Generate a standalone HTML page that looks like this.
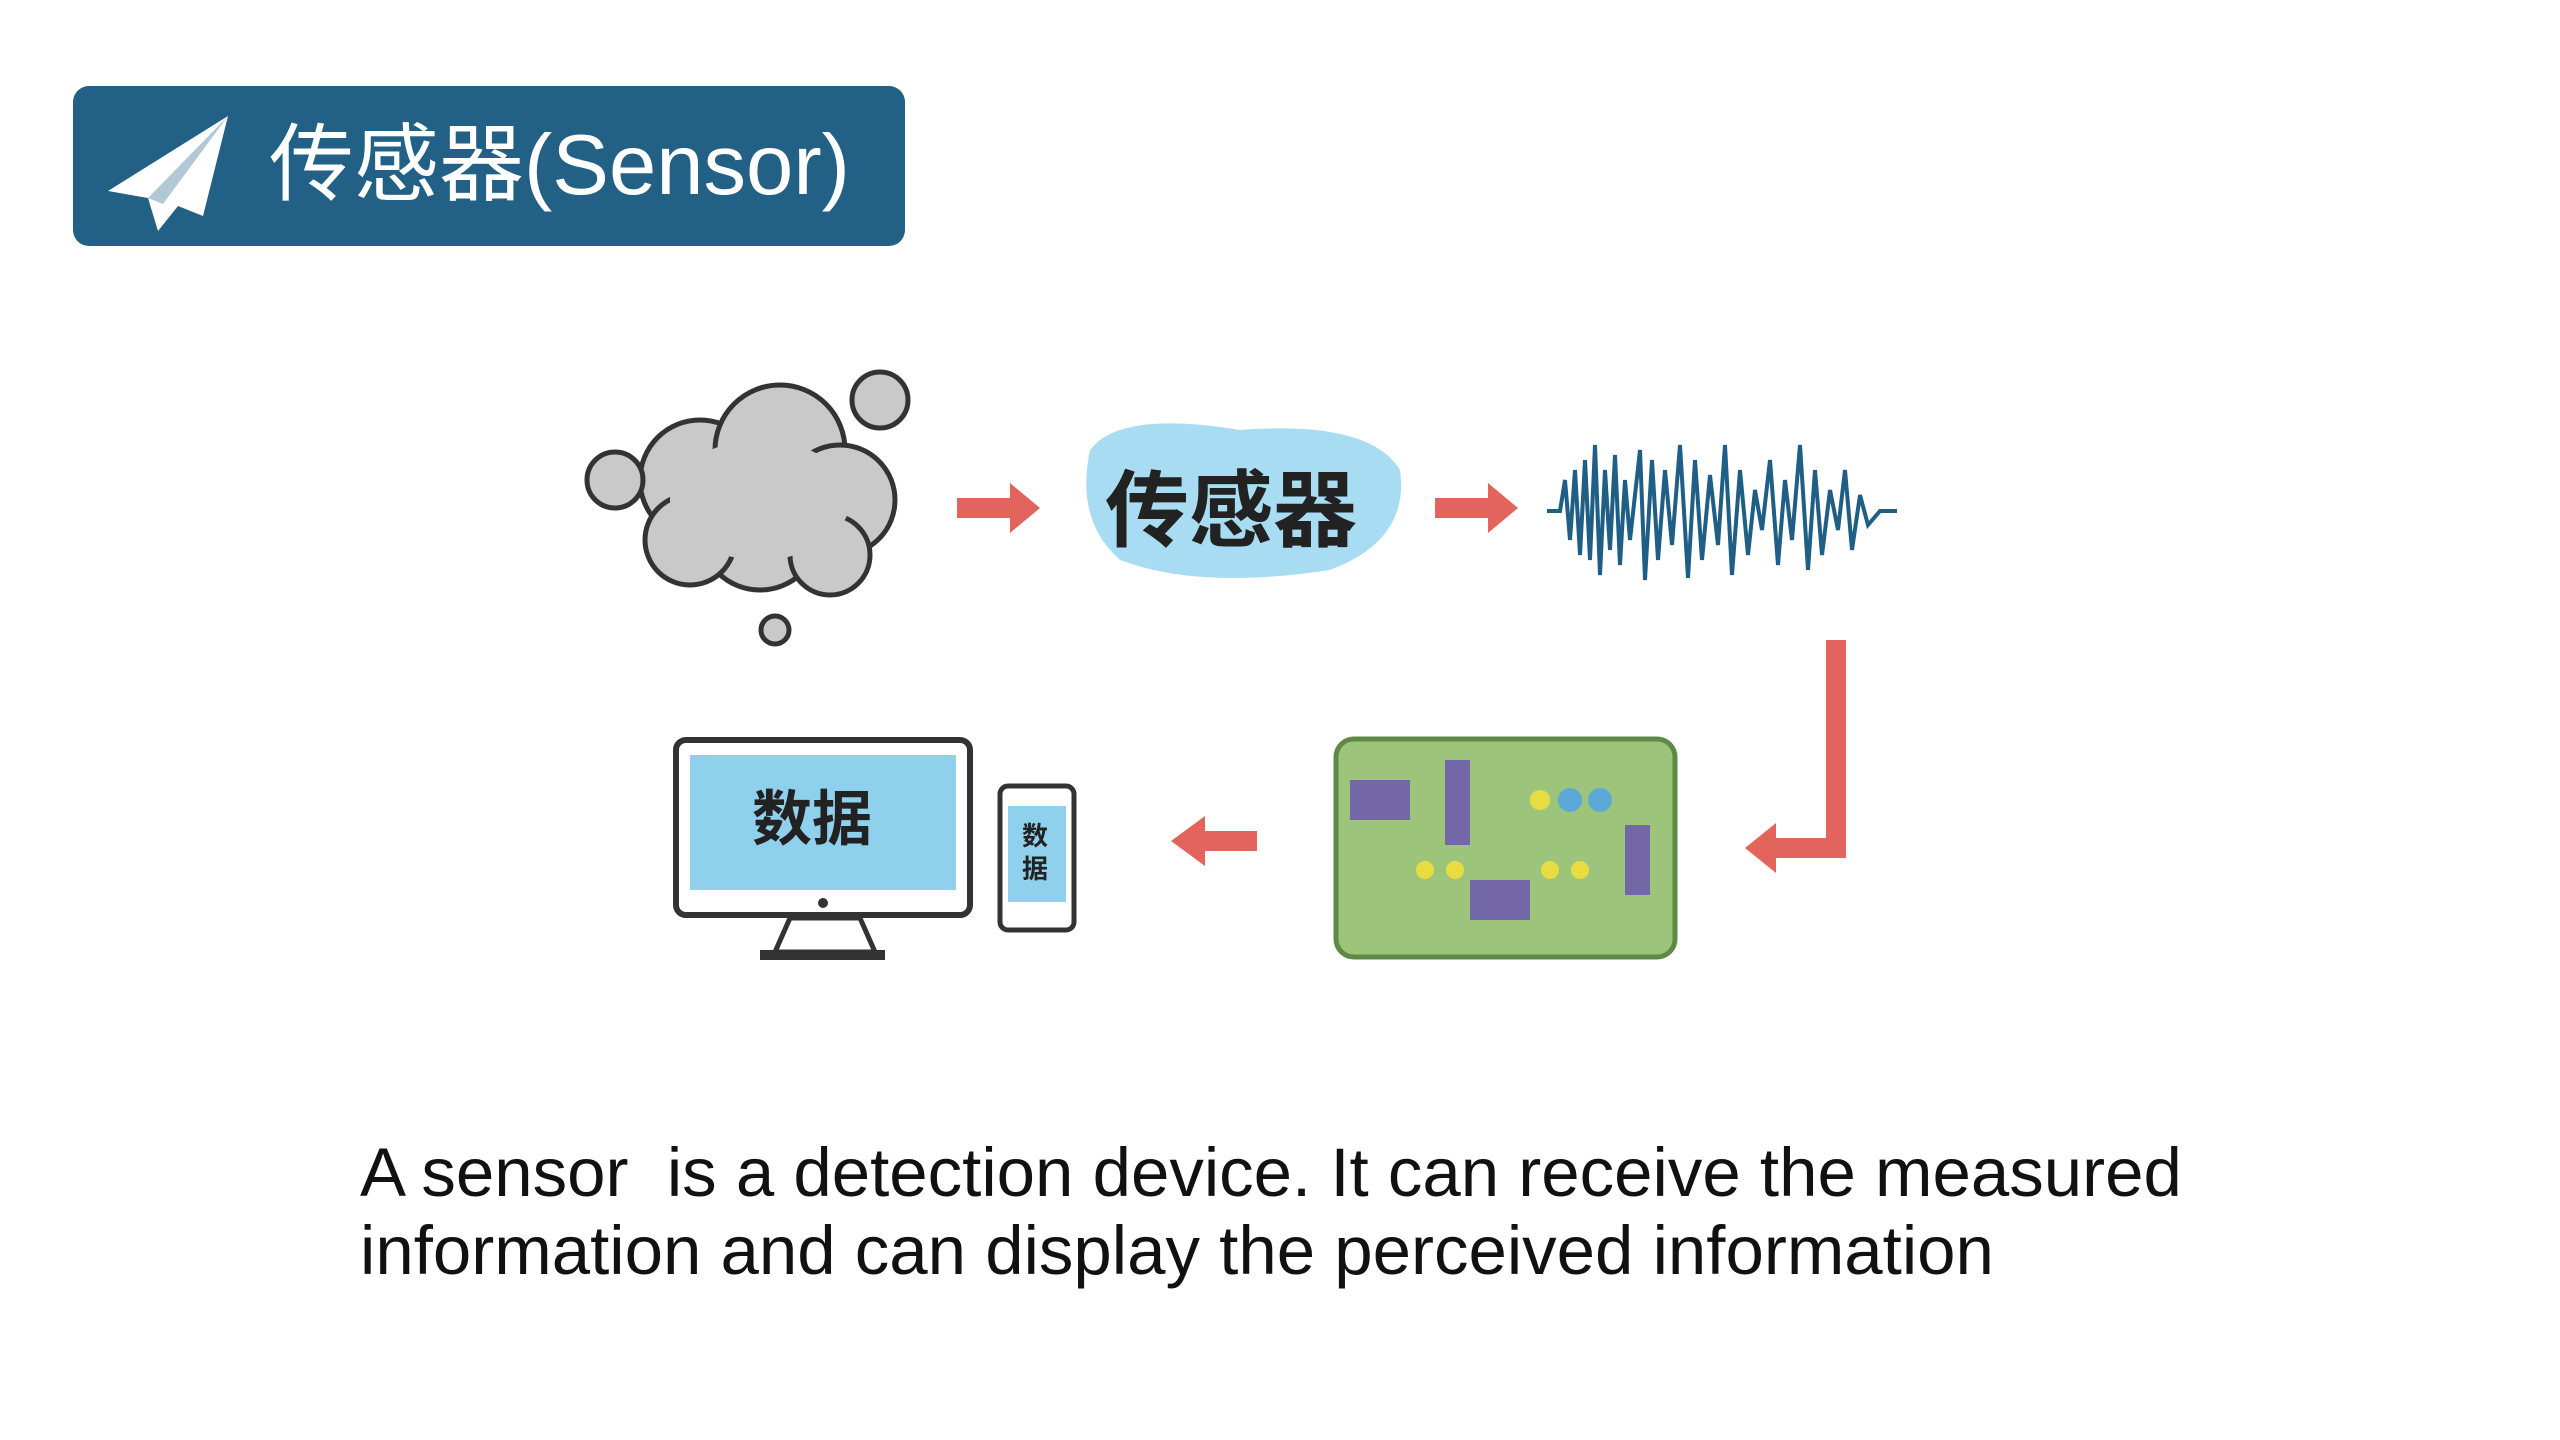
<!DOCTYPE html>
<html><head><meta charset="utf-8"><style>
body{margin:0;width:2560px;height:1440px;background:#fff;position:relative;overflow:hidden;font-family:"Liberation Sans","Noto Sans CJK SC",sans-serif}
.hdr{position:absolute;left:73px;top:86px;width:832px;height:160px;background:#226185;border-radius:16px}
.hdr span{position:absolute;left:196px;top:20px;color:#fff;font-size:85px;line-height:120px;white-space:nowrap}
.txt{position:absolute;left:360px;top:1134px;font-size:69px;line-height:78px;color:#111;white-space:pre}
</style></head><body>
<div class="hdr">
<svg style="position:absolute;left:30px;top:20px" width="130" height="130" viewBox="0 0 130 130">
<polygon points="125,10 5,85 45,92 55,125 75,100 100,110" fill="#fff"/>
<polygon points="125,10 45,92 60,98" fill="#226185" opacity="0.35"/>
</svg>
<span>传感器(Sensor)</span></div>

<svg style="position:absolute;left:0;top:0" width="2560" height="1440">
<g fill="#c9c9c9" stroke="#333" stroke-width="5">
<circle cx="700" cy="480" r="60"/><circle cx="780" cy="450" r="65"/><circle cx="840" cy="500" r="55"/>
<circle cx="760" cy="530" r="60"/><circle cx="690" cy="540" r="45"/><circle cx="830" cy="555" r="40"/>
<circle cx="615" cy="480" r="28"/><circle cx="880" cy="400" r="28"/><circle cx="775" cy="630" r="14"/>
</g>
<ellipse cx="760" cy="500" rx="90" ry="60" fill="#c9c9c9"/>
<g fill="#e2645d">
<polygon points="957,498 1010,498 1010,483 1040,508 1010,533 1010,518 957,518"/>
<polygon points="1435,498 1488,498 1488,483 1518,508 1488,533 1488,518 1435,518"/>
<polygon points="1257,831 1205,831 1205,816 1171,841 1205,866 1205,851 1257,851"/>
<path d="M1826,640 h20 v218 h-70 v15 l-31,-25 l31,-25 v15 h50 z"/>
</g>
<path d="M1090,450 Q1120,410 1240,430 Q1370,420 1400,470 Q1410,540 1330,570 Q1200,590 1120,560 Q1075,520 1090,450z" fill="#a8dcf2"/>
<text x="1105" y="540" font-size="84" font-family="Noto Sans CJK SC" font-weight="bold" fill="#222">传感器</text>
<polyline fill="none" stroke="#1f5f86" stroke-width="4" points="1547,511 1560,511 1565,480 1570,540 1575,470 1580,555 1585,460 1590,560 1595,445 1600,575 1605,470 1610,550 1615,455 1620,565 1625,480 1630,540 1640,450 1645,580 1652,460 1658,560 1665,470 1672,545 1680,445 1688,578 1695,460 1702,560 1710,475 1718,545 1725,445 1732,575 1740,470 1748,555 1755,490 1762,530 1770,460 1778,565 1785,480 1792,540 1800,445 1808,570 1815,470 1822,555 1830,490 1838,530 1845,470 1852,550 1860,495 1868,525 1880,511 1897,511"/>
<rect x="1336" y="739" width="339" height="218" rx="18" fill="#9cc47a" stroke="#5e8a45" stroke-width="5"/>
<rect x="1445" y="760" width="25" height="85" fill="#7467a8"/>
<rect x="1625" y="825" width="25" height="70" fill="#7467a8"/>
<rect x="1350" y="780" width="60" height="40" fill="#7467a8"/>
<rect x="1470" y="880" width="60" height="40" fill="#7467a8"/>
<circle cx="1540" cy="800" r="10" fill="#e8dc40"/><circle cx="1570" cy="800" r="12" fill="#5aa8d8"/><circle cx="1600" cy="800" r="12" fill="#5aa8d8"/>
<circle cx="1425" cy="870" r="9" fill="#e8dc40"/><circle cx="1455" cy="870" r="9" fill="#e8dc40"/><circle cx="1550" cy="870" r="9" fill="#e8dc40"/><circle cx="1580" cy="870" r="9" fill="#e8dc40"/>
<rect x="676" y="740" width="294" height="175" rx="10" fill="#fff" stroke="#333" stroke-width="6"/>
<rect x="690" y="755" width="266" height="135" fill="#8fd0ec"/>
<text x="752" y="840" font-size="60" font-family="Noto Sans CJK SC" font-weight="bold" fill="#222">数据</text>
<polygon points="790,918 860,918 875,952 775,952" fill="#fff" stroke="#333" stroke-width="5"/>
<rect x="760" y="950" width="125" height="10" fill="#333"/>
<circle cx="823" cy="903" r="5" fill="#333"/>
<rect x="1000" y="786" width="74" height="144" rx="8" fill="#fff" stroke="#333" stroke-width="5"/>
<rect x="1008" y="806" width="58" height="96" fill="#8fd0ec"/>
<text x="1022" y="845" font-size="26" font-family="Noto Sans CJK SC" font-weight="bold" fill="#222">数</text>
<text x="1022" y="878" font-size="26" font-family="Noto Sans CJK SC" font-weight="bold" fill="#222">据</text>
</svg>

<div class="txt">A sensor  is a detection device. It can receive the measured
information and can display the perceived information</div>
</body></html>
